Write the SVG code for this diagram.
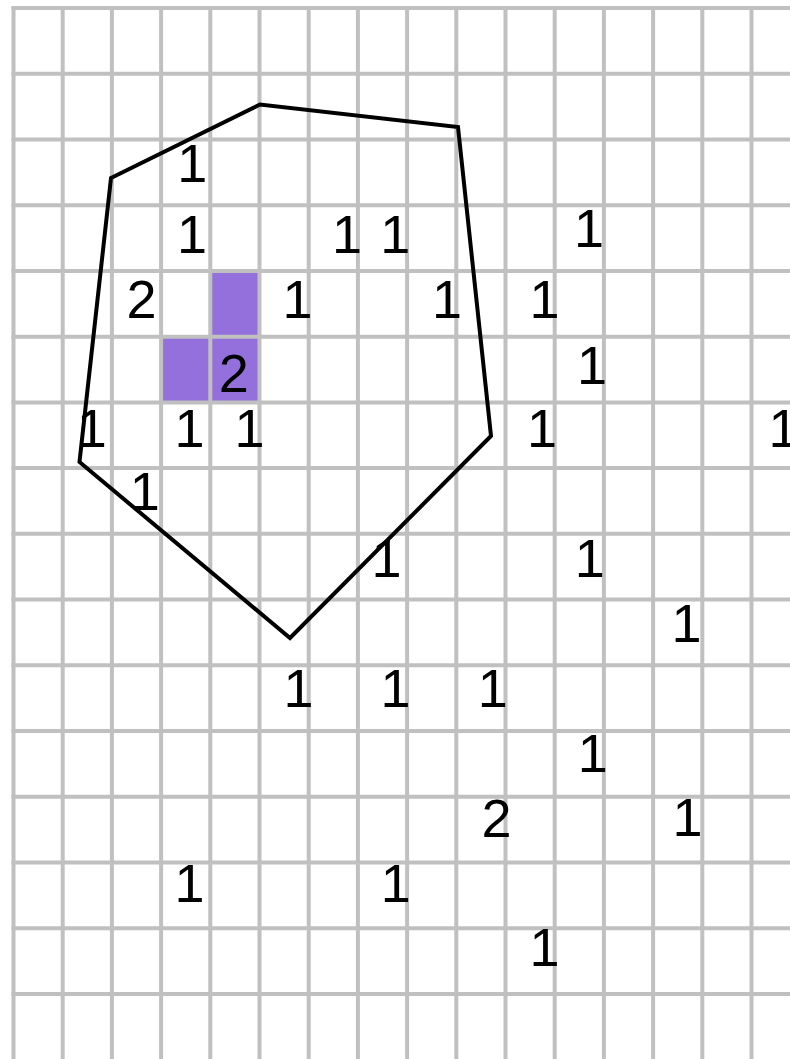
<svg xmlns="http://www.w3.org/2000/svg" width="790" height="1059" viewBox="0 0 790 1059">
<style>
.grid{stroke:#c0c0c0;stroke-width:4;fill:none}
.cell{fill:#9370db}
.poly{fill:none;stroke:#000;stroke-width:4;stroke-linejoin:miter}
.n{font-family:"Liberation Sans",Arial,Helvetica,sans-serif;font-size:54px;fill:#000;text-anchor:middle}
</style>
<rect width="790" height="1059" fill="#fff"/>
<g id="cells">
<rect class="cell" x="210.3" y="270.92" width="49.2" height="65.73"/>
<rect class="cell" x="161.1" y="336.65" width="49.2" height="65.73"/>
<rect class="cell" x="210.3" y="336.65" width="49.2" height="65.73"/>
</g>
<g id="grid" class="grid">
<path d="M13.5 6V1059M62.7 6V1059M111.9 6V1059M161.1 6V1059M210.3 6V1059M259.5 6V1059M308.7 6V1059M357.9 6V1059M407.1 6V1059M456.3 6V1059M505.5 6V1059M554.7 6V1059M603.9 6V1059M653.1 6V1059M702.3 6V1059M751.5 6V1059"/>
<path d="M11.5 8H790M11.5 73.73H790M11.5 139.46H790M11.5 205.19H790M11.5 270.92H790M11.5 336.65H790M11.5 402.38H790M11.5 468.11H790M11.5 533.84H790M11.5 599.57H790M11.5 665.3H790M11.5 731.03H790M11.5 796.76H790M11.5 862.49H790M11.5 928.22H790M11.5 993.95H790"/>
</g>
<g id="labels" class="n">
<text x="192.3" y="182">1</text>
<text x="192" y="253">1</text>
<text x="347" y="253">1</text>
<text x="395.3" y="253">1</text>
<text x="589" y="247">1</text>
<text x="141.5" y="318">2</text>
<text x="297.5" y="318">1</text>
<text x="447" y="318">1</text>
<text x="544.5" y="318">1</text>
<text x="233.7" y="392">2</text>
<text x="592" y="384">1</text>
<text x="91.8" y="447">1</text>
<text x="189.5" y="447">1</text>
<text x="249.5" y="447">1</text>
<text x="542" y="447">1</text>
<text x="783.5" y="447">1</text>
<text x="144.8" y="510">1</text>
<text x="386.5" y="577">1</text>
<text x="589.8" y="577">1</text>
<text x="686.5" y="642">1</text>
<text x="298.5" y="707">1</text>
<text x="395.5" y="707">1</text>
<text x="492.8" y="707">1</text>
<text x="592.8" y="772">1</text>
<text x="496.5" y="837">2</text>
<text x="687.5" y="836">1</text>
<text x="189.5" y="902">1</text>
<text x="395.8" y="902">1</text>
<text x="544.5" y="966">1</text>
</g>
<g id="polygon">
<polygon class="poly" points="111,178 260,104.5 458,127 491,436 290,638 79.5,462"/>
</g>
</svg>
